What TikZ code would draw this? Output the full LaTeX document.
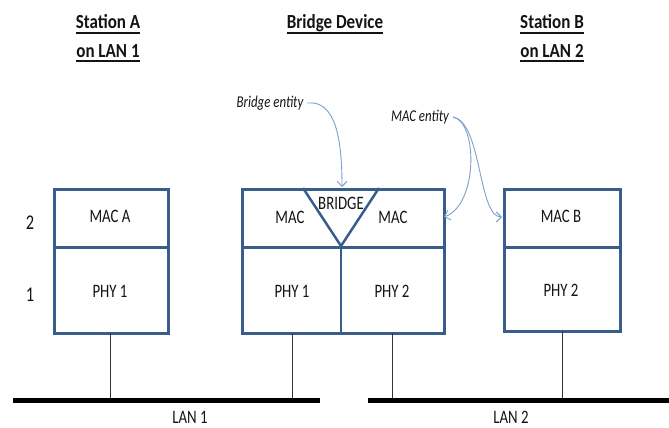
\documentclass[tikz,border=0pt]{standalone}
\usepackage{fontspec}
\setmainfont[FakeStretch=0.78]{Carlito}
\newfontfamily\hdrfont[FakeStretch=0.85]{Carlito}
\usetikzlibrary{arrows.meta}
\definecolor{boxblue}{RGB}{56,93,138}
\definecolor{arrblue}{RGB}{125,160,205}
\definecolor{txt}{RGB}{20,20,20}
\tikzset{
  cell/.style={draw=boxblue, line width=3pt, minimum width=#1, inner sep=0pt, anchor=north west},
  lbl/.style={font=\fontsize{19}{21}\selectfont, text=txt, inner sep=0pt},
  hdr/.style={font=\hdrfont\bfseries\fontsize{20}{22}\selectfont, text=txt, inner sep=0pt, anchor=base},
  uline/.style={draw=txt, line width=1.6pt},
  ann/.style={font=\itshape\fontsize{16.5}{18}\selectfont, text=txt, inner sep=0pt},
  annarrow/.style={draw=arrblue, line width=0.9pt, -{Straight Barb[length=5pt,width=10pt]}},
  drop/.style={draw=black!80, line width=0.8pt},
  lan/.style={draw=black, line width=5pt},
  lyr/.style={font=\fontsize{21}{23}\selectfont, text=txt, inner sep=0pt}
}
\begin{document}
\begin{tikzpicture}[x=1pt,y=-1pt]
\useasboundingbox (0,0) rectangle (669,428);
% headers
\node[hdr] (hA1) at (108,29) {Station A};
\node[hdr] (hA2) at (108,57) {on LAN 1};
\node[hdr] (hB) at (335,29) {Bridge Device};
\node[hdr] (hC1) at (552,29) {Station B};
\node[hdr] (hC2) at (552,57) {on LAN 2};
\foreach \n in {hA1,hA2,hB,hC1,hC2}
  \draw[uline] ([yshift=-4pt]\n.base west) -- ([yshift=-4pt]\n.base east);
% layer numbers
\node[lyr] (l2) at (30,223) {2};
\node[lyr] (l1) at (30,295) {1};
% Station A
\node[cell=114pt, minimum height=58pt] (macA) at (53,188) {};
\node[cell=114pt, minimum height=86pt] (phyA) at (53,246) {};
\node[lbl] at (110,216) {MAC A};
\node[lbl] at (110,291) {PHY 1};
% Bridge
\node[cell=202pt, minimum height=58pt] (brTop) at (241,188) {};
\node[cell=202pt, minimum height=86pt] (brBot) at (241,246) {};
\draw[draw=boxblue, line width=2pt] (341,246) -- (341,332);
\coordinate (triL) at (303,188);
\coordinate (triR) at (379,188);
\coordinate (triB) at (341,246);
\draw[draw=boxblue, line width=2.5pt, line join=miter] (triL) -- (triB) -- (triR);
\node[lbl] (macL) at (290,217) {MAC};
\node[lbl] (bridge) at (341,203) {BRIDGE};
\node[lbl] (macR) at (393,217) {MAC};
\node[lbl] at (292,291) {PHY 1};
\node[lbl] at (392,291) {PHY 2};
% Station B
\node[cell=116pt, minimum height=58pt] (macB) at (503,188) {};
\node[cell=116pt, minimum height=84pt] (phyB) at (503,246) {};
\node[lbl] at (561,216) {MAC B};
\node[lbl] at (561,290) {PHY 2};
% LANs
\coordinate (lan1a) at (13,400);
\coordinate (lan1b) at (320,400);
\coordinate (lan2a) at (368,400);
\coordinate (lan2b) at (669,400);
\draw[lan] (lan1a) -- (lan1b);
\draw[lan] (lan2a) -- (lan2b);
\draw[drop] (110,333) -- (110,398);
\draw[drop] (292,333) -- (292,398);
\draw[drop] (392,333) -- (392,398);
\draw[drop] (562,331) -- (562,398);
\node[lbl] (lan1) at (190,417) {LAN 1};
\node[lbl] (lan2) at (511,417) {LAN 2};
% annotations
\node[ann] (be) at (270,103) {Bridge entity};
\node[ann] (me) at (420,117) {MAC entity};
\draw[annarrow] (be.east) ++(4,0) .. controls (336,100) and (342,140) .. (342,187);
\draw[annarrow] (me.east) ++(4,0) .. controls (478,122) and (478,205) .. (444,217);
\draw[annarrow] (me.east) ++(4,0) .. controls (482,122) and (478,217) .. (502,217);
\end{tikzpicture}
\end{document}
